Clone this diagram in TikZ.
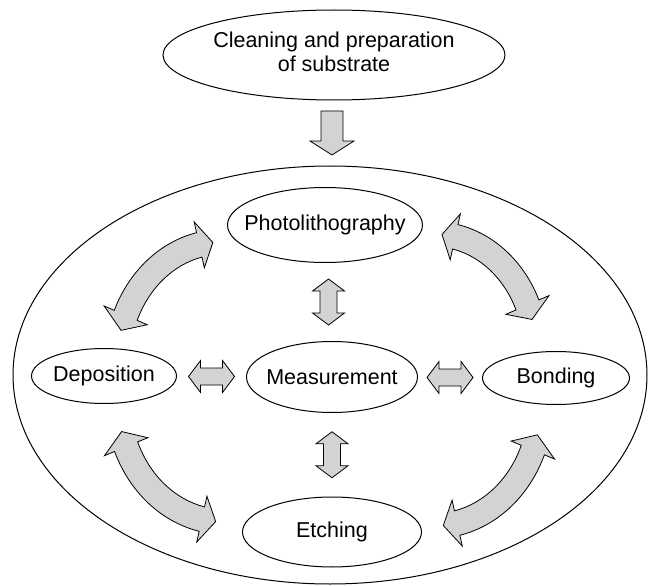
\documentclass[tikz,border=0pt]{standalone}
\usepackage{fontspec}
\setmainfont{Liberation Sans}
\usetikzlibrary{calc,shapes.geometric}

\definecolor{arrowgray}{RGB}{209,211,213}

\tikzset{
  stage/.style={ellipse, draw, line width=1pt, inner sep=0pt},
  blockfill/.style={draw, line width=0.8pt, fill=arrowgray, line join=miter},
  dblarrow/.pic={\draw[blockfill] (-23,0) -- (-11,-16) -- (-11,-8.5) -- (11,-8.5)
      -- (11,-16) -- (23,0) -- (11,16) -- (11,8.5) -- (-11,8.5) -- (-11,16) -- cycle;},
  downarrow/.pic={\draw[blockfill] (-11,-22) -- (11,-22) -- (11,8) -- (22,8)
      -- (0,22) -- (-22,8) -- (-11,8) -- cycle;}
}

% text of zero width, so the ellipse keeps the given size
\newcommand{\lbl}[1]{\makebox[0pt]{#1}}

% curved double-headed block arrow along an elliptic arc:
% centre, x radius, y radius, from angle, to angle
\newcommand{\bendarrow}[5]{%
  \pgfmathsetmacro\angA{#4+7.5}%
  \pgfmathsetmacro\angB{#5-7.5}%
  \pgfmathsetmacro\rxo{#2+12.5}\pgfmathsetmacro\ryo{#3+12.5}%
  \pgfmathsetmacro\rxi{#2-12.5}\pgfmathsetmacro\ryi{#3-12.5}%
  \pgfmathsetmacro\rxh{#2+23.5}\pgfmathsetmacro\ryh{#3+23.5}%
  \pgfmathsetmacro\rxl{#2-23.5}\pgfmathsetmacro\ryl{#3-23.5}%
  \draw[blockfill, shift={#1}]
    (#4:{#2} and {#3}) -- (\angA:{\rxh} and {\ryh}) -- (\angA:{\rxo} and {\ryo})
    arc[start angle=\angA, end angle=\angB, x radius=\rxo, y radius=\ryo]
    -- (\angB:{\rxh} and {\ryh}) -- (#5:{#2} and {#3}) -- (\angB:{\rxl} and {\ryl})
    -- (\angB:{\rxi} and {\ryi})
    arc[start angle=\angB, end angle=\angA, x radius=\rxi, y radius=\ryi]
    -- (\angA:{\rxl} and {\ryl}) -- cycle;}

\begin{document}
\begin{tikzpicture}[x=1pt, y=-1pt, font=\fontsize{21.5}{24}\selectfont]
  \useasboundingbox (0,0) rectangle (649,586);

  % Ellipses
  \node[stage, minimum width=342pt, minimum height=90pt] (clean) at (334,55)
    {\lbl{\begin{tabular}{@{}c@{}}Cleaning and preparation\\of substrate\end{tabular}}};
  \node[stage, minimum width=634pt, minimum height=418pt] (loop) at (330,375) {};
  \node[stage, minimum width=195pt, minimum height=75pt] (photo) at (325,225) {\lbl{Photolithography}};
  \node[stage, minimum width=171pt, minimum height=71pt] (meas) at (332,377) {\lbl{Measurement}};
  \node[stage, minimum width=145pt, minimum height=55pt] (dep) at (104,376) {\lbl{Deposition}};
  \node[stage, minimum width=147pt, minimum height=53pt] (bond) at (556,378) {\lbl{Bonding}};
  \node[stage, minimum width=179pt, minimum height=70pt] (etch) at (332,532) {\lbl{Etching}};

  % Straight arrows
  \pic at ($(clean.south)!0.5!(loop.north)$) {downarrow};
  \pic[rotate=90] at ($(photo.south)!0.5!(meas.north)$) {dblarrow};
  \pic[rotate=90] at ($(meas.south)!0.5!(etch.north)$) {dblarrow};
  \pic at ($(dep.east)!0.5!(meas.west)$) {dblarrow};
  \pic at ($(meas.east)!0.5!(bond.west)$) {dblarrow};

  % Curved arrows
  \bendarrow{(222,364)}{105}{122}{196}{265}
  \bendarrow{(433,352)}{103}{118}{275}{344}
  \bendarrow{(225,400)}{107}{122}{95}{165}
  \bendarrow{(434,403)}{107}{123}{15}{85}
\end{tikzpicture}
\end{document}
